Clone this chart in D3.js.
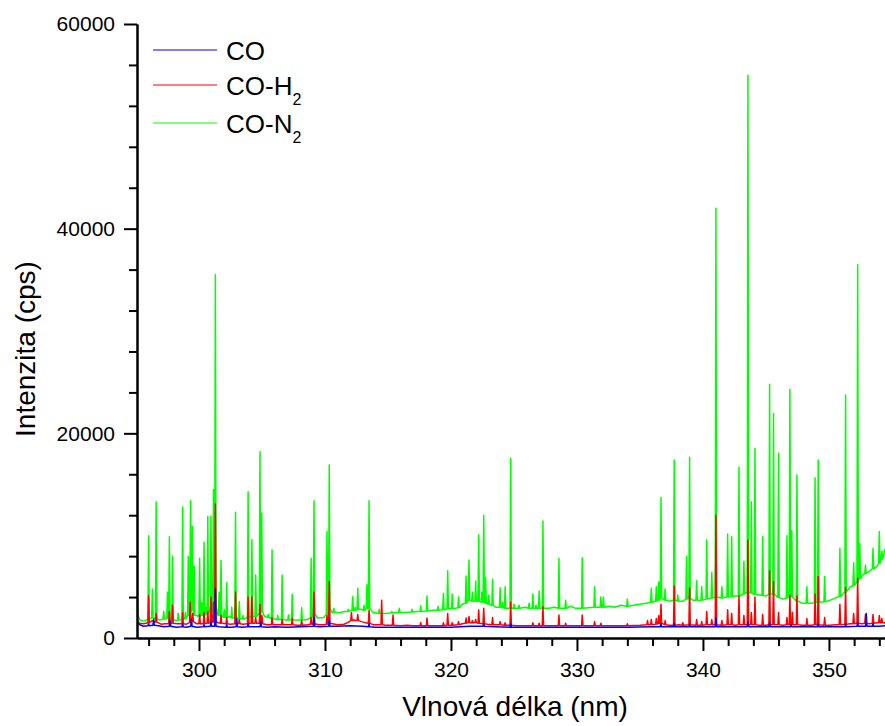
<!DOCTYPE html>
<html>
<head>
<meta charset="utf-8">
<script src="https://cdn.jsdelivr.net/npm/d3@7"></script>
<style>
  html, body { margin: 0; padding: 0; background: #fff; }
  svg { display: block; }
  text { font-family: "Liberation Sans", Arial, sans-serif; fill: #000; }
</style>
</head>
<body>
<div id="chart"></div>
<script>
// ---------- DATA ----------
// Each entry: [wavelength, intensity] = baseline point, or
//             [wavelength, peakIntensity, baselineAtFoot] = a spectral line
const seriesNames = ["CO", "CO-H", "CO-N"];
const seriesSub = ["", "2", "2"];

const coData = [
  [295.08,1500],[295.3,1300],[295.6,1150],[296.0,1400,1200],[296.4,1850,1250],[296.8,1200],[297.2,1100],
  [297.7,1700,1150],[298.2,1050],[298.7,1400,1100],[299.0,1050],[299.4,1850,1150],[299.8,1050],
  [300.4,1300,1100],[300.95,1600,1150],[301.3,4800,1150],[301.6,1100],[302.2,1300,1050],[302.6,1050],
  [303.0,1850,1100],[303.4,1050],[303.9,1400,1100],[304.5,1100],[304.9,1600,1100],[305.4,1050],
  [306.0,1100],[307.0,1050],[308.0,1100],[309.13,2020,1150],[309.6,1100],[310.34,1850,1150],[311.0,1150],
  [312.0,1200],[313.0,1150],[313.5,1400,1100],[314.0,1050],[316.0,1050],[318.0,1050],[320.0,1050],
  [321.5,1150],[322.6,1400,1150],[323.5,1100],[324.74,1400,1050],[326.0,1050],[328.0,1050],[330.0,1050],
  [332.0,1050],[334.0,1050],[336.0,1100],[336.67,1400,1100],[337.72,1450,1100],[338.94,1350,1100],
  [340.0,1100],[341.03,1950,1100],[342.0,1100],[343.57,1600,1100],[344.5,1100],[345.29,1500,1100],
  [346.0,1100],[347.0,1300,1100],[348.0,1100],[349.15,1350,1100],[350.0,1100],[351.32,1350,1100],
  [352.28,1500,1150],[352.96,2400,1150],[353.5,1400,1150],[354.0,1150],[354.45,1200]
];

const coH2Data = [
  [295.08,1600],[295.3,1450],[295.6,1400],[296.0,4100,1500],[296.3,1700],[296.6,2400,1550],[297.0,1350],
  [297.3,1400],[297.65,2600,1400],[297.9,3200,1450],[298.3,1400],[298.7,2500,1400],[299.0,1350],
  [299.3,3500,1500],[299.5,2400,1600],[299.8,1400],[300.05,2300,1400],[300.4,2500,1400],[300.7,2600,1450],
  [300.95,4000,1500],[301.15,3500,1550],[301.3,13100,1600],[301.5,1500],[301.75,2200,1450],[302.2,2000,1400],
  [302.5,1350],[302.9,4500,1400],[303.2,1800,1400],[303.5,1350],[303.9,4000,1400],[304.2,4000,1450],
  [304.5,2000,1450],[304.84,3300,1450],[305.0,2200,1400],[305.4,1300],[305.8,2000,1300],[306.2,1300],
  [306.6,1800,1300],[307.0,1300],[307.4,1900,1300],[307.8,1250],[308.15,1700,1250],[308.6,1300],
  [308.9,2000,1350],[309.13,4500,1400],[309.5,1300],[310.0,1300],[310.16,2200,1350],[310.34,5500,1450],
  [310.6,1400],[311.0,1300],[311.5,1350],[311.8,1500],[312.1,2500,1700],[312.3,1800,1700],[312.6,2300,1700],
  [312.9,1600],[313.2,1500],[313.5,2740,1450],[313.8,1300],[314.5,3700,1300],[314.8,1250],[315.4,2250,1250],
  [316.0,1200],[316.5,1250],[317.0,1200],[317.6,1500,1200],[318.1,1950,1200],[318.5,1200],[319.0,1200],
  [319.4,1500,1200],[319.74,2400,1250],[320.1,1500,1250],[320.6,1600,1300],[320.9,1400],[321.2,1950,1450],
  [321.43,2100,1500],[321.7,1700,1500],[321.96,1800,1500],[322.2,2740,1450],[322.6,2900,1400],[322.9,1350],
  [323.3,2000,1300],[323.9,1600,1300],[324.3,1500,1250],[324.74,3500,1250],[325.2,1200],[326.0,1200],
  [326.5,1500,1200],[327.0,1450,1200],[327.3,3060,1200],[327.8,1200],[328.57,2250,1200],[329.1,1450,1200],
  [329.8,1200],[330.42,2250,1200],[331.0,1200],[331.4,1600,1200],[331.9,1450,1200],[332.5,1200],
  [333.5,1200],[334.0,1400,1200],[335.0,1250],[335.6,1700,1300],[335.9,1800,1300],[336.3,1900,1350],
  [336.5,2200,1400],[336.67,3290,1450],[337.0,1700,1300],[337.3,1250],[337.72,5080,1250],[338.1,1300],
  [338.4,1500,1250],[338.94,4850,1300],[339.5,1800,1250],[339.9,1600,1250],[340.3,2600,1300],
  [340.7,1800,1300],[341.03,12000,1300],[341.5,1700,1250],[341.96,2750,1300],[342.28,2400,1300],
  [342.6,1250],[342.86,4100,1300],[343.25,2200,1300],[343.57,9580,1300],[343.84,2500,1300],
  [344.13,4000,1300],[344.45,1250],[344.74,2300,1250],[345.0,1250],[345.29,6580,1300],[345.6,5500,1300],
  [346.0,2500,1300],[346.35,1250],[346.67,2000,1300],[346.9,4200,1300],[347.1,2500,1300],[347.46,4100,1300],
  [347.9,1250],[348.25,1900,1250],[348.6,1250],[348.9,4300,1300],[349.15,6000,1300],[349.66,2000,1250],
  [350.1,1250],[350.5,1300],[350.87,3300,1300],[351.32,4900,1350],[351.7,1400],[351.96,2400,1400],
  [352.28,5830,1450],[352.6,1400],[352.9,2300,1450],[353.2,1400],[353.5,2300,1450],[353.8,1500],
  [354.0,2200,1500],[354.2,1900,1500],[354.45,1500]
];

const coN2Data = [
  [295.08,3900],[295.15,2300],[295.3,1750],[295.6,1650],[295.8,1750],[296.0,10000,1850],[296.3,4800,1950],
  [296.6,13300,1900],[296.9,1750],[297.2,2600,1850],[297.5,4500,1900],[297.65,9900,1900],[297.9,8000,1800],
  [298.2,1700],[298.35,2400,1750],[298.7,12800,1800],[298.92,2500,1900],[299.15,8000,2200],
  [299.33,13400,2600],[299.48,10900,2800],[299.62,7000,2200],[299.8,2200],[300.05,7800,2100],
  [300.22,3500,2200],[300.4,9350,2200],[300.55,3000,2300],[300.7,11900,2400],[300.83,2800],
  [300.95,11900,2500],[301.15,14500,2700],[301.3,35500,3200],[301.45,2300],[301.6,4500,2200],
  [301.75,7600,2200],[302.0,2800,2000],[302.2,5400,2000],[302.45,2100],[302.6,3000,1950],
  [302.9,12300,1950],[303.2,3550,1900],[303.5,2200,1850],[303.9,14300,2000],[304.2,9600,2100],
  [304.5,6150,2100],[304.84,18200,2400],[304.98,12200,2600],[305.2,2100],[305.5,2300,2000],
  [305.8,8600,1900],[306.1,1800],[306.25,2200,1800],[306.6,6150,1800],[306.9,1750],[307.1,2250,1750],
  [307.4,4270,1750],[307.8,1750],[308.15,2960,1750],[308.6,1800],[308.9,7800,2000],[309.13,13400,2400],
  [309.4,1950],[309.9,2000],[310.16,10400,2300],[310.34,16900,2900],[310.55,2500],[310.7,2900,2500],
  [311.2,2500],[311.6,2600],[311.85,2800,2600],[312.2,4040,2700],[312.4,3000,2700],[312.6,4850,2800],
  [312.9,2800],[313.1,3200,2700],[313.33,5200,2900],[313.5,13400,2900],[313.8,2500],[314.3,2800,2400],
  [314.8,2400],[315.3,2600,2450],[315.9,2900,2500],[316.4,2500],[316.9,2800,2550],[317.3,2600],
  [317.6,3150,2600],[318.1,4100,2650],[318.5,2700],[318.97,3100,2700],[319.4,4360,2750],[319.74,6580,2850],
  [320.1,4300,2850],[320.35,2900],[320.6,4000,2950],[320.9,3300],[321.2,6060,3400],[321.43,7620,3700],
  [321.7,4500,3600],[321.96,5570,3600],[322.2,10070,3600],[322.45,4500,3500],[322.6,12000,3500],
  [322.75,5900,3400],[323.0,4200,3300],[323.3,5730,3200],[323.6,3000],[323.9,4900,3000],[324.1,3500,2950],
  [324.3,5000,2900],[324.74,17560,2900],[325.0,3300,2900],[325.4,3200,2900],[325.9,3000],[326.2,3400,2900],
  [326.5,4300,2900],[326.75,3200,2900],[327.0,4600,2900],[327.3,11430,2900],[327.8,2900],[328.2,3000],
  [328.57,7800,2900],[329.1,3700,2900],[329.5,3100],[329.9,2900],[330.42,7850,2900],[330.9,2950],
  [331.4,5000,3000],[331.9,4000,3000],[332.1,4000,3000],[332.6,3100],[333.0,3000],[333.5,3200],
  [334.0,3800,3100],[334.5,3200],[335.0,3300],[335.5,3400],[335.9,4850,3500],[336.3,5000,3600],
  [336.5,5500,3700],[336.67,13740,3900],[337.0,4800,3700],[337.3,3600],[337.72,17400,3700],
  [338.0,4200,3600],[338.4,3600],[338.7,8000,3800],[338.94,17660,3900],[339.2,3700],[339.5,5600,3700],
  [339.9,5000,3700],[340.3,9580,3800],[340.7,6400,3900],[341.03,42000,4000],[341.5,5000,3900],
  [341.96,10160,4000],[342.28,9900,4050],[342.6,4100],[342.86,16680,4100],[343.25,7500,4300],
  [343.57,55000,4500],[343.84,13320,4400],[344.13,18540,4250],[344.45,4200],[344.74,9900,4150],
  [345.0,4100],[345.29,24800,4300],[345.6,21950,4300],[346.0,18050,3950],[346.35,3800],
  [346.67,10000,3900],[346.9,24300,4500],[347.05,10500,4000],[347.46,15930,3600],[347.9,3400],
  [348.25,5000,3400],[348.6,3400],[348.9,15670,3450],[349.15,17400,3500],[349.66,6000,3550],
  [350.1,3700],[350.5,3900],[350.87,8760,4050],[351.32,23750,4500],[351.7,5000],[351.96,7360,5100],
  [352.28,36500,5500],[352.45,9250,5800],[352.7,6200],[352.9,7130,6300],[353.2,6500],[353.5,8760,6750],
  [353.8,7000],[354.0,10400,7300],[354.2,8500,7700],[354.45,8700]
];

const xMajorTicks = [300, 310, 320, 330, 340, 350];
const xMinorTicks = [296, 298, 302, 304, 306, 308, 312, 314, 316, 318, 322, 324, 326, 328,
                     332, 334, 336, 338, 342, 344, 346, 348, 352, 354];
const yMajorTicks = [0, 20000, 40000, 60000];
const yMinorTicks = [4000, 8000, 12000, 16000, 24000, 28000, 32000, 36000,
                     44000, 48000, 52000, 56000];
const xTitle = "Vlnová délka (nm)";
const yTitle = "Intenzita (cps)";
const colors = ["#0000ff", "#ff0000", "#00ff00"];

// ---------- CHART ----------
const W = 885, H = 726;
const svg = d3.select("#chart").append("svg").attr("width", W).attr("height", H);
svg.append("rect").attr("width", W).attr("height", H).attr("fill", "#fff");

const x = d3.scaleLinear().domain([295.08, 354.45]).range([137, 885]);
const y = d3.scaleLinear().domain([0, 60000]).range([638, 24]);

svg.append("clipPath").attr("id", "clip")
  .append("rect").attr("x", 137).attr("y", 0).attr("width", W - 137).attr("height", 638);

const HW = 0.055; // half width of a drawn spectral line (nm)
function expand(data) {
  const pts = [];
  data.forEach(d => {
    if (d.length === 2) pts.push([d[0], d[1]]);
    else pts.push([d[0] - HW, d[2]], [d[0], d[1]], [d[0] + HW, d[2]]);
  });
  return pts;
}
const line = d3.line().x(d => x(d[0])).y(d => y(d[1]));

const gLines = svg.append("g").attr("clip-path", "url(#clip)");
// draw order: CO-N2 under, CO-H2, CO on top
[[coN2Data, colors[2]], [coH2Data, colors[1]], [coData, colors[0]]].forEach(([data, c]) => {
  gLines.append("path").datum(expand(data))
    .attr("d", line).attr("fill", "none").attr("stroke", c)
    .attr("stroke-width", 1.5).attr("stroke-linejoin", "round");
});

// axes
const fontSize = 21;
function styleAxis(g) {
  g.selectAll("path.domain").attr("stroke", "#000").attr("stroke-width", 2);
  g.selectAll(".tick line").attr("stroke", "#000").attr("stroke-width", 2);
  g.selectAll(".tick text").attr("font-size", fontSize)
    .attr("font-family", "Liberation Sans, Arial, sans-serif").attr("fill", "#000");
}
const xAxisMinor = svg.append("g").attr("transform", "translate(0,638)")
  .call(d3.axisBottom(x).tickValues(xMinorTicks).tickSize(8).tickSizeOuter(0).tickFormat(""));
styleAxis(xAxisMinor);
const xAxis = svg.append("g").attr("transform", "translate(0,638)")
  .call(d3.axisBottom(x).tickValues(xMajorTicks).tickSize(13).tickSizeOuter(0).tickPadding(11)
    .tickFormat(d3.format("d")));
styleAxis(xAxis);

const yAxisMinor = svg.append("g").attr("transform", "translate(137,0)")
  .call(d3.axisLeft(y).tickValues(yMinorTicks).tickSize(8).tickSizeOuter(0).tickFormat(""));
styleAxis(yAxisMinor);
const yAxis = svg.append("g").attr("transform", "translate(137,0)")
  .call(d3.axisLeft(y).tickValues(yMajorTicks).tickSize(13).tickSizeOuter(0).tickPadding(9)
    .tickFormat(d3.format("d")));
styleAxis(yAxis);

// axis titles
svg.append("text").attr("x", 515).attr("y", 716).attr("text-anchor", "middle")
  .attr("font-size", 28).text(xTitle);
svg.append("text").attr("transform", "translate(35,349) rotate(-90)")
  .attr("text-anchor", "middle").attr("font-size", 28).text(yTitle);

// legend
const legY = [50, 85, 123];
seriesNames.forEach((name, i) => {
  svg.append("line").attr("x1", 153).attr("x2", 217).attr("y1", legY[i]).attr("y2", legY[i])
    .attr("stroke", colors[i]).attr("stroke-width", 1);
  const t = svg.append("text").attr("x", 226).attr("y", legY[i] + 10).attr("font-size", 26);
  t.append("tspan").text(name);
  if (seriesSub[i]) t.append("tspan").attr("dy", 10).attr("font-size", 16).text(seriesSub[i]);
});
</script>
</body>
</html>
